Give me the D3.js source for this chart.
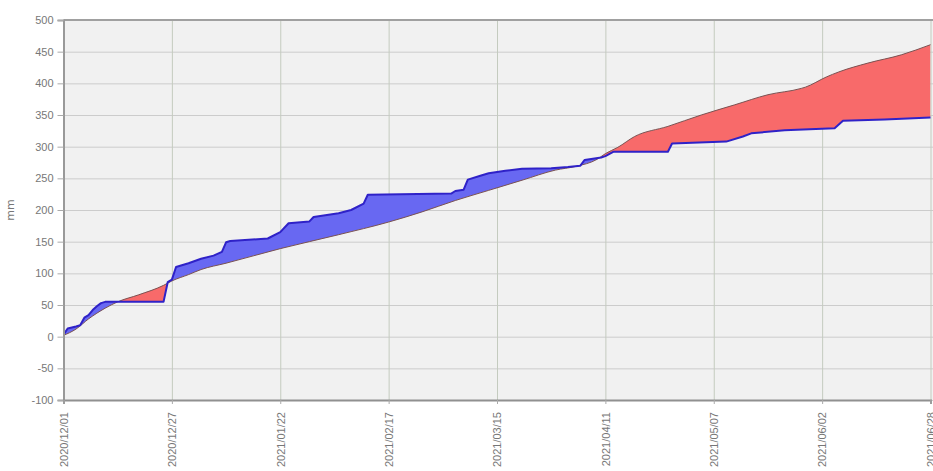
<!DOCTYPE html>
<html>
<head>
<meta charset="utf-8">
<script src="https://cdn.jsdelivr.net/npm/d3@7"></script>
<style>
body { margin: 0; background: #fff; }
svg { display: block; font-family: "DejaVu Sans", Verdana, sans-serif; }
</style>
</head>
<body>
<div id="chart"></div>
<script>
// cumulative rainfall, actual (day index from 2020/12/01, mm)
var actualDay = [0, 1, 3, 4, 5, 6, 7, 8, 9, 10, 24, 25, 26, 27, 30, 33, 36, 38, 39, 40, 49, 52, 54, 59, 60, 66, 69, 72, 73, 93,
                 94, 96, 97, 100, 102, 106, 110, 117, 121, 124, 125, 129, 130, 132, 145, 146, 159, 163, 165, 173, 185, 187, 197, 208],
    actualMm = [3, 13, 16, 18, 30, 34, 42, 48, 53, 55, 55, 86, 90, 110, 116, 123, 128, 134, 149, 151, 155, 165, 179, 182, 189, 195, 200, 210, 224, 226,
                230, 232, 248, 254, 258, 262, 265, 266, 268, 270, 279, 283, 285, 292, 292, 305, 308, 316, 321, 326, 329, 341, 343, 346];

// cumulative rainfall, normal year
var normalDay = [0, 3, 6, 10, 13, 18, 24, 26, 30, 33, 39, 52, 66, 78, 86, 94, 102, 110, 118, 123, 128, 130, 133, 137,
                 145, 153, 161, 169, 177, 178, 183, 186, 193, 201, 208],
    normalMm = [2, 12, 28, 45, 55, 66, 81, 88, 98, 106, 116, 139, 161, 181, 197, 215, 231, 247, 263, 269, 280, 289, 299, 316,
                332, 350, 366, 382, 392, 394, 410, 418, 432, 445, 461];

var tickDay = [0, 26, 52, 78, 104, 130, 156, 182, 208],
    tickLabel = ["2020/12/01", "2020/12/27", "2021/01/22", "2021/02/17", "2021/03/15",
                 "2021/04/11", "2021/05/07", "2021/06/02", "2021/06/28"];

var yTicks = [-100, -50, 0, 50, 100, 150, 200, 250, 300, 350, 400, 450, 500];

var width = 933,
    height = 471,
    plotLeft = 63.5,
    plotTop = 20,
    plotBottom = 400;

var actual = actualDay.map(function (d, i) { return [d, actualMm[i]]; }),
    normal = normalDay.map(function (d, i) { return [d, normalMm[i]]; });

var x = d3.scaleLinear().domain([0, 208]).range([plotLeft, 930.5]);
var y = d3.scaleLinear().domain([-100, 500]).range([plotBottom, plotTop]);

var normalCurve = d3.curveMonotoneX;

var svg = d3.select("#chart").append("svg")
    .attr("width", width)
    .attr("height", height);

var defs = svg.append("defs");

defs.append("clipPath").attr("id", "plot-clip")
    .append("rect")
    .attr("x", plotLeft).attr("y", plotTop)
    .attr("width", width - plotLeft).attr("height", plotBottom - plotTop);

// region above the normal line / above the actual line
defs.append("clipPath").attr("id", "above-normal")
    .append("path")
    .attr("d", d3.area().curve(normalCurve).x(d => x(d[0])).y0(0).y1(d => y(d[1]))(normal));

defs.append("clipPath").attr("id", "above-actual")
    .append("path")
    .attr("d", d3.area().x(d => x(d[0])).y0(0).y1(d => y(d[1]))(actual));

// background
svg.append("rect")
    .attr("x", plotLeft).attr("y", plotTop)
    .attr("width", width - plotLeft).attr("height", plotBottom - plotTop)
    .attr("fill", "#f1f1f1");

// grid
svg.append("g")
    .attr("transform", "translate(" + plotLeft + ",0)")
    .call(d3.axisLeft(y).tickValues(yTicks).tickSize(-(width - plotLeft)).tickFormat(""))
    .call(g => g.select(".domain").remove())
    .selectAll("line").attr("stroke", "#cccccc");

svg.append("g")
    .attr("transform", "translate(0," + plotBottom + ")")
    .call(d3.axisBottom(x).tickValues(tickDay).tickSize(-(plotBottom - plotTop)).tickFormat(""))
    .call(g => g.select(".domain").remove())
    .selectAll("line").attr("stroke", "#c4cbbf");

var plot = svg.append("g").attr("clip-path", "url(#plot-clip)");

// actual above normal -> blue
plot.append("path")
    .attr("clip-path", "url(#above-normal)")
    .attr("d", d3.area().x(d => x(d[0])).y0(height).y1(d => y(d[1]))(actual))
    .attr("fill", "#6868f2");

// actual below normal -> red
plot.append("path")
    .attr("clip-path", "url(#above-actual)")
    .attr("d", d3.area().curve(normalCurve).x(d => x(d[0])).y0(height).y1(d => y(d[1]))(normal))
    .attr("fill", "#f86a6a");

plot.append("path")
    .attr("d", d3.line().curve(normalCurve).x(d => x(d[0])).y(d => y(d[1]))(normal))
    .attr("fill", "none")
    .attr("stroke", "#7a5252")
    .attr("stroke-width", 1);

plot.append("path")
    .attr("d", d3.line().x(d => x(d[0])).y(d => y(d[1]))(actual))
    .attr("fill", "none")
    .attr("stroke", "#2f22c8")
    .attr("stroke-width", 2)
    .attr("stroke-linejoin", "round");

// frame
svg.append("line")
    .attr("x1", plotLeft).attr("x2", width)
    .attr("y1", plotTop).attr("y2", plotTop)
    .attr("stroke", "#a0a0a0").attr("stroke-width", 2);

// y axis
var yAxis = svg.append("g")
    .attr("transform", "translate(" + plotLeft + ",0)")
    .call(d3.axisLeft(y).tickValues(yTicks).tickSize(6).tickPadding(4).tickFormat(d => String(d)));
yAxis.select(".domain").attr("stroke", "#999").attr("stroke-width", 2);
yAxis.selectAll("line").attr("stroke", "#aaa");
yAxis.selectAll("text").attr("fill", "#777").style("font-size", "11px");

// x axis
var xAxis = svg.append("g")
    .attr("transform", "translate(0," + plotBottom + ")")
    .call(d3.axisBottom(x).tickValues(tickDay).tickSize(4).tickFormat((d, i) => tickLabel[i]));
xAxis.select(".domain").attr("stroke", "#909090").attr("stroke-width", 2);
xAxis.selectAll("line").attr("stroke", "#aaa");
xAxis.selectAll("text")
    .attr("fill", "#777")
    .style("font-size", "11px")
    .style("text-anchor", "end")
    .attr("transform", "rotate(-90)")
    .attr("x", -12)
    .attr("y", 0)
    .attr("dy", "0.35em");

svg.append("text")
    .attr("transform", "translate(14," + (plotTop + plotBottom) / 2 + ") rotate(-90)")
    .attr("text-anchor", "middle")
    .attr("fill", "#777")
    .style("font-size", "11px")
    .text("mm");
</script>
</body>
</html>
